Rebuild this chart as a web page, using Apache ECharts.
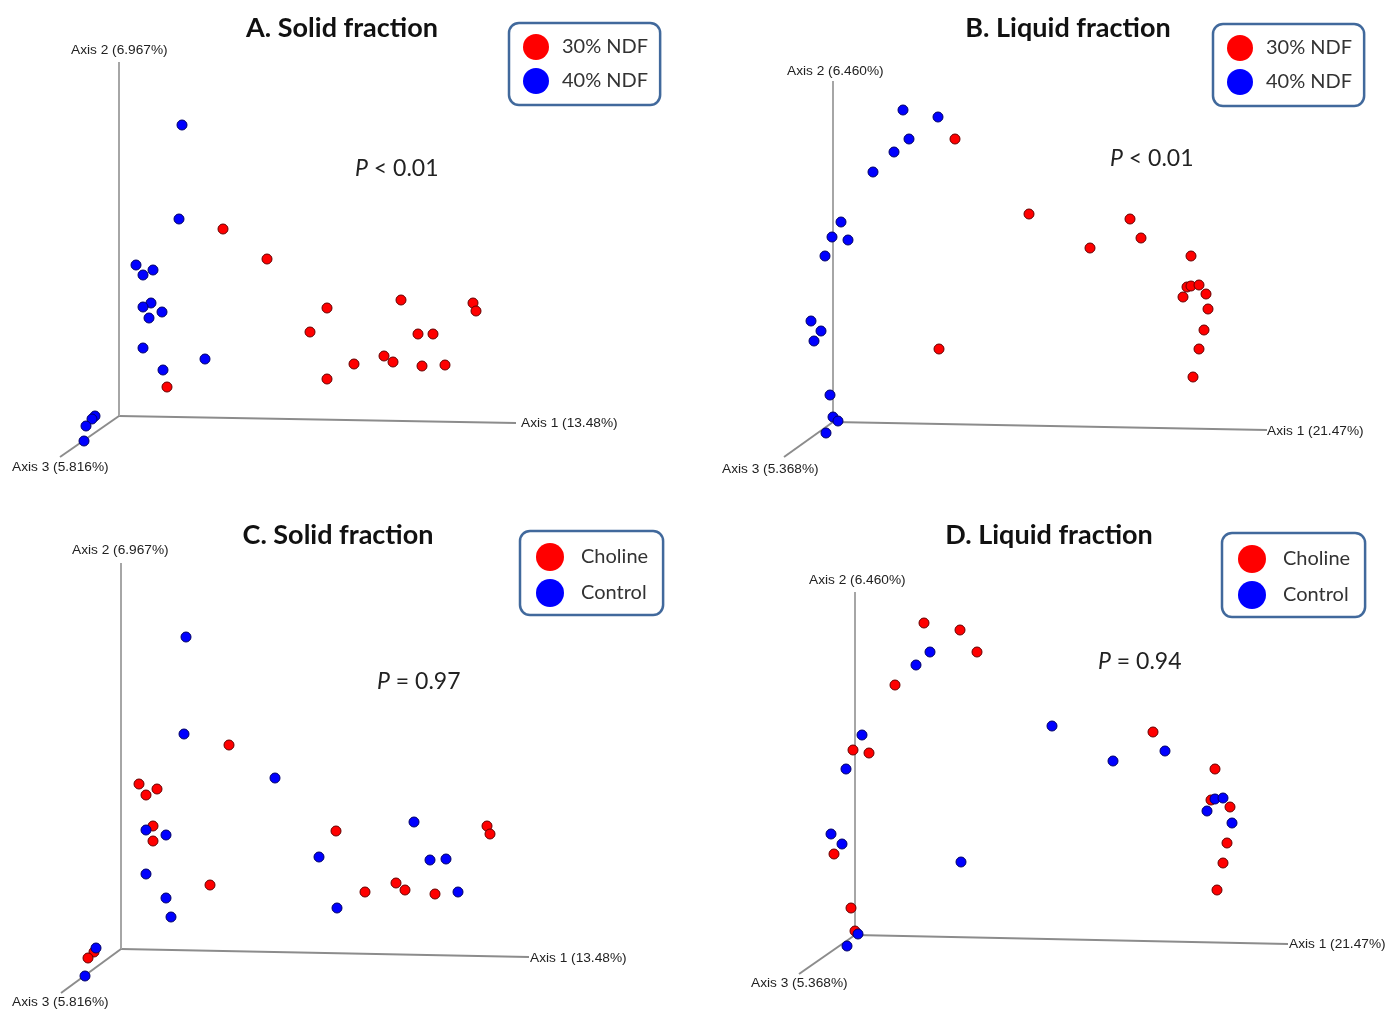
<!DOCTYPE html>
<html>
<head>
<meta charset="utf-8">
<script src="https://cdn.jsdelivr.net/npm/echarts@6/dist/echarts.min.js"></script>
<style>
  html, body { margin: 0; padding: 0; background: #fff; }
  #chart { width: 1388px; height: 1010px; }
</style>
</head>
<body>
<div id="chart"></div>
<script>
// ---------- DATA (projected PCoA coordinates, origin at the axes' corner, y upward) ----------
const titles = ['A. Solid fraction', 'B. Liquid fraction', 'C. Solid fraction', 'D. Liquid fraction'];
const pLabels = [['P', ' < 0.01'], ['P', ' < 0.01'], ['P', ' = 0.97'], ['P', ' = 0.94']];
const groupsNdf = ['30% NDF', '40% NDF'];
const groupsCholine = ['Choline', 'Control'];
const axisLabelsSolid = ['Axis 1 (13.48%)', 'Axis 2 (6.967%)', 'Axis 3 (5.816%)'];
const axisLabelsLiquid = ['Axis 1 (21.47%)', 'Axis 2 (6.460%)', 'Axis 3 (5.368%)'];

// A. Solid fraction
const solidNdf30 = [[104,187],[148,157],[208,108],[282,116],[354,113],[357,105],[191,84],[299,82],[314,82],[265,60],[274,54],[235,52],[303,50],[326,51],[208,37],[48,29]];
const solidNdf40 = [[63,291],[60,197],[17,151],[34,146],[24,141],[32,113],[24,109],[43,104],[30,98],[24,68],[86,57],[44,46],[-24,0],[-27,-3],[-33,-10],[-35,-25]];
// B. Liquid fraction
const liquidNdf30 = [[122,283],[196,208],[297,203],[308,184],[257,174],[358,166],[354,135],[358,136],[366,137],[373,128],[350,125],[375,113],[371,92],[366,73],[360,45],[106,73]];
const liquidNdf40 = [[70,312],[105,305],[76,283],[61,270],[40,250],[8,200],[-1,185],[15,182],[-8,166],[-22,101],[-12,91],[-19,81],[-3,27],[0,5],[5,1],[-7,-11]];
// C. Solid fraction
const solidCholine = [[108,204],[18,165],[36,160],[25,154],[32,123],[32,108],[215,118],[366,123],[369,115],[89,64],[275,66],[284,59],[244,57],[314,55],[-27,-3],[-33,-9]];
const solidControl = [[65,312],[63,215],[154,171],[293,127],[25,119],[45,114],[198,92],[309,89],[325,90],[25,75],[337,57],[45,51],[216,41],[50,32],[-25,1],[-36,-27]];
// D. Liquid fraction
const liquidCholine = [[69,312],[105,305],[122,283],[40,250],[298,203],[-2,185],[14,182],[360,166],[356,135],[375,128],[372,92],[368,72],[362,45],[-21,81],[-4,27],[0,4]];
const liquidControl = [[75,283],[61,270],[7,200],[-9,166],[197,209],[310,184],[258,174],[360,136],[368,137],[352,124],[377,112],[-24,101],[-13,91],[106,73],[3,1],[-8,-11]];

// ---------- LAYOUT ----------
const legendNdfStyle = { itemWidth: 28, itemHeight: 26, itemGap: 8, padding: [11, 12, 11, 14], textPad: 7 };
const legendChoStyle = { itemWidth: 30, itemHeight: 28, itemGap: 8, padding: [12, 15, 8, 16], textPad: 11 };

const panels = [
  { rect: [0, 0, 694, 505],   origin: [119, 416], ends: [[397,-7],[0,354],[-59,-41]],
    axisText: axisLabelsSolid, groups: groupsNdf, red: solidNdf30, blue: solidNdf40,
    titleX: 342, titleY: 28, pX: 355, pY: 169, legend: [509, 23], leg: legendNdfStyle,
    labPos: [[521,423],[71,50],[12,467]] },
  { rect: [694, 0, 694, 505], origin: [833, 422], ends: [[434,-8],[0,341],[-49,-35]],
    axisText: axisLabelsLiquid, groups: groupsNdf, red: liquidNdf30, blue: liquidNdf40,
    titleX: 1068, titleY: 28, pX: 1110, pY: 159, legend: [1213, 24], leg: legendNdfStyle,
    labPos: [[1267,431],[787,71],[722,469]] },
  { rect: [0, 505, 694, 505], origin: [121, 949], ends: [[408,-8],[0,386],[-60,-44]],
    axisText: axisLabelsSolid, groups: groupsCholine, red: solidCholine, blue: solidControl,
    titleX: 338, titleY: 535, pX: 377, pY: 682, legend: [520, 531], leg: legendChoStyle,
    labPos: [[530,958],[72,550],[12,1002]] },
  { rect: [694, 505, 694, 505], origin: [855, 935], ends: [[433,-9],[0,343],[-56,-39]],
    axisText: axisLabelsLiquid, groups: groupsCholine, red: liquidCholine, blue: liquidControl,
    titleX: 1049, titleY: 535, pX: 1098, pY: 662, legend: [1222, 533], leg: legendChoStyle,
    labPos: [[1289,944],[809,580],[751,983]] }
];

const RED = '#ff0000', BLUE = '#0000ff';
const grid = [], xAxis = [], yAxis = [], series = [], graphic = [], legend = [];

panels.forEach((p, i) => {
  const [gl, gt, gw, gh] = p.rect;
  const [ox, oy] = p.origin;
  grid.push({ left: gl, top: gt, width: gw, height: gh, containLabel: false, show: false });
  xAxis.push({ type: 'value', gridIndex: i, min: gl - ox, max: gl + gw - ox, show: false, splitLine: { show: false } });
  yAxis.push({ type: 'value', gridIndex: i, min: oy - (gt + gh), max: oy - gt, show: false, splitLine: { show: false } });

  // three projected axes
  p.ends.forEach((e, k) => {
    series.push({
      type: 'line', xAxisIndex: i, yAxisIndex: i, silent: true, symbol: 'none',
      data: [[0, 0], e], lineStyle: { color: k === 1 ? '#a6a6a6' : '#8c8c8c', width: 2 }, z: 1
    });
  });

  series.push({ name: p.groups[0], type: 'scatter', xAxisIndex: i, yAxisIndex: i, data: p.red,
    symbolSize: 10, itemStyle: { color: RED, opacity: 1, borderColor: '#660000', borderWidth: 1 }, z: 3 });
  series.push({ name: p.groups[1], type: 'scatter', xAxisIndex: i, yAxisIndex: i, data: p.blue,
    symbolSize: 10, itemStyle: { color: BLUE, opacity: 1, borderColor: '#000066', borderWidth: 1 }, z: 3 });

  // legend box
  legend.push({
    data: p.groups.map((n, k) => ({ name: n, itemStyle: { color: k === 0 ? RED : BLUE, borderWidth: 0, opacity: 1 } })),
    left: p.legend[0], top: p.legend[1], orient: 'vertical', icon: 'circle',
    itemWidth: p.leg.itemWidth, itemHeight: p.leg.itemHeight, itemGap: p.leg.itemGap,
    padding: p.leg.padding,
    backgroundColor: '#fff', borderColor: '#41699c', borderWidth: 2.5, borderRadius: 10,
    textStyle: { fontFamily: 'Lato', fontSize: 20, color: '#333', padding: [0, 0, 0, p.leg.textPad] },
    selectedMode: false
  });

  // title
  graphic.push({ type: 'text', x: p.titleX, y: p.titleY, z: 10,
    style: { text: titles[i], font: 'bold 27px Lato', fill: '#111', textAlign: 'center', textVerticalAlign: 'middle' } });
  // P value
  graphic.push({ type: 'text', x: p.pX, y: p.pY, z: 10,
    style: { text: '{i|' + pLabels[i][0] + '}{n|' + pLabels[i][1] + '}', textVerticalAlign: 'middle',
      rich: { i: { font: 'italic 23px Lato', fill: '#222' }, n: { font: '23px Lato', fill: '#222' } } } });
  // axis labels
  p.axisText.forEach((t, k) => {
    graphic.push({ type: 'text', x: p.labPos[k][0], y: p.labPos[k][1], z: 10,
      style: { text: t, font: '13.7px "Liberation Sans"', fill: '#222', textVerticalAlign: 'middle' } });
  });
});

const chart = echarts.init(document.getElementById('chart'), null, { renderer: 'canvas' });
chart.setOption({
  backgroundColor: '#ffffff',
  animation: false,
  grid, xAxis, yAxis, series, legend, graphic
});
</script>
</body>
</html>
